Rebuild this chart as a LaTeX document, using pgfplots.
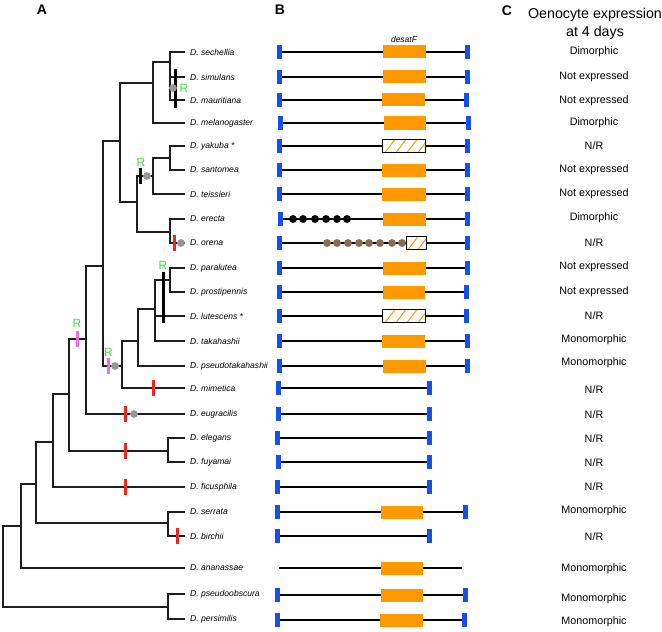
\documentclass[border=0pt]{standalone}
\usepackage{pgfplots}
\pgfplotsset{compat=1.18}
\usepackage{fontspec}
\setmainfont{Liberation Sans}
\definecolor{bbar}{RGB}{20,80,240}
\definecolor{obox}{RGB}{255,153,0}
\definecolor{brownd}{RGB}{140,106,79}
\definecolor{dotgray}{RGB}{150,150,150}
\definecolor{rgreen}{RGB}{60,225,60}
\definecolor{pinkb}{RGB}{235,110,235}
\definecolor{redb}{RGB}{232,40,30}
\definecolor{treec}{RGB}{30,30,30}
\newcommand{\spc}[3]{\node[anchor=west,inner sep=0pt,font=\fontsize{8.6}{10}\selectfont\itshape] at (axis cs:#1,#2) {#3};}
\newcommand{\ct}[2]{\node[inner sep=0pt,font=\fontsize{10.8}{12}\selectfont] at (axis cs:594,#1) {#2};}
\newcommand{\gl}[3]{\addplot[black,line width=2bp] coordinates {(#2,#1) (#3,#1)};}
\newcommand{\ob}[3]{\addplot[obox,line width=13bp] coordinates {(#2,#1) (#3,#1)};}
\newcommand{\rr}[2]{\node[inner sep=0pt,text=rgreen,font=\fontsize{12}{13}\selectfont] at (axis cs:#1,#2) {R};}
\begin{document}
\begin{tikzpicture}
\begin{axis}[scale only axis, width=662bp, height=632bp, xmin=0, xmax=662, ymin=0, ymax=632, y dir=reverse, hide axis, clip=false]
% ---------------- tree ----------------
\pgfplotsset{every axis plot/.append style={line join=miter}}
\addplot[treec,line width=1.3bp] coordinates {(185,52)(170,52)(170,100)(185,100)};
\addplot[treec,line width=1.3bp] coordinates {(170,77)(185,77)};
\addplot[treec,line width=1.3bp] coordinates {(170,62)(153,62)(153,123)(185,123)};
\addplot[treec,line width=1.3bp] coordinates {(185,146)(170,146)(170,170)(185,170)};
\addplot[treec,line width=1.3bp] coordinates {(170,158)(153,158)(153,194)(185,194)};
\addplot[treec,line width=1.3bp] coordinates {(185,219)(170,219)(170,243)(185,243)};
\addplot[treec,line width=1.3bp] coordinates {(153,176)(137,176)(137,232)(170,232)};
\addplot[treec,line width=1.3bp] coordinates {(153,83)(120,83)(120,202)(137,202)};
\addplot[treec,line width=1.3bp] coordinates {(185,268)(170,268)(170,292)(185,292)};
\addplot[treec,line width=1.3bp] coordinates {(170,280)(155,280)(155,341)(185,341)};
\addplot[treec,line width=1.3bp] coordinates {(155,316)(185,316)};
\addplot[treec,line width=1.3bp] coordinates {(155,309)(138,309)(138,366)(185,366)};
\addplot[treec,line width=1.3bp] coordinates {(138,341)(122,341)(122,388)(185,388)};
\addplot[treec,line width=1.3bp] coordinates {(120,141)(103,141)(103,366)(122,366)};
\addplot[treec,line width=1.3bp] coordinates {(103,266)(86,266)(86,414)(185,414)};
\addplot[treec,line width=1.3bp] coordinates {(185,438)(168,438)(168,462)(185,462)};
\addplot[treec,line width=1.3bp] coordinates {(86,339)(69,339)(69,451)(168,451)};
\addplot[treec,line width=1.3bp] coordinates {(69,394)(53,394)(53,487)(185,487)};
\addplot[treec,line width=1.3bp] coordinates {(185,512)(168,512)(168,536)(185,536)};
\addplot[treec,line width=1.3bp] coordinates {(53,442)(36,442)(36,523)(168,523)};
\addplot[treec,line width=1.3bp] coordinates {(36,484)(21,484)(21,568)(185,568)};
\addplot[treec,line width=1.3bp] coordinates {(185,594)(168,594)(168,619)(185,619)};
\addplot[treec,line width=1.3bp] coordinates {(21,526)(3,526)(3,607)(168,607)};
% black bars
\addplot[black,line width=3bp] coordinates {(175,69)(175,108)};
\addplot[black,line width=3bp] coordinates {(140,168)(140,184)};
\addplot[black,line width=3bp] coordinates {(163,272)(163,323)};
% pink bars
\addplot[pinkb,line width=3bp] coordinates {(77,331)(77,347)};
\addplot[pinkb,line width=3bp] coordinates {(108,358)(108,374)};
% red bars
\addplot[only marks, mark=|, mark size=8bp, color=redb, mark options={line width=3bp}] coordinates {(174,243)(153,388)(125,414)(125,451)(125,487)(177,536)};
% gray dots
\addplot[only marks, mark=*, mark size=3.6bp, color=dotgray] coordinates {(173,88)(147,176)(181,243)(115,366)(134,414)};
% R labels
\rr{184}{88}
\rr{141}{162}
\rr{163}{265}
\rr{77}{323}
\rr{108.5}{352}
% species labels
\spc{190}{52}{D. sechellia}
\spc{190}{77}{D. simulans}
\spc{190}{100}{D. mauritiana}
\spc{190}{123}{D. melanogaster}
\spc{190}{146}{D. yakuba *}
\spc{190}{170}{D. santomea}
\spc{190}{194}{D. teissieri}
\spc{190}{219}{D. erecta}
\spc{190}{243}{D. orena}
\spc{190}{268}{D. paralutea}
\spc{190}{292}{D. prostipennis}
\spc{190}{316}{D. lutescens *}
\spc{190}{341}{D. takahashii}
\spc{190}{366}{D. pseudotakahashii}
\spc{190}{388}{D. mimetica}
\spc{190}{414}{D. eugracilis}
\spc{190}{438}{D. elegans}
\spc{190}{462}{D. fuyamai}
\spc{190}{487}{D. ficusphila}
\spc{190}{512}{D. serrata}
\spc{190}{536}{D. birchii}
\spc{190}{568}{D. ananassae}
\spc{190}{594}{D. pseudoobscura}
\spc{190}{619}{D. persimilis}
% ---------------- gene diagrams ----------------
\gl{52}{279}{467}
\gl{77}{279}{467}
\gl{100}{279}{466}
\gl{123}{280}{468}
\gl{146}{279}{467}
\gl{170}{279}{467}
\gl{194}{279}{467}
\gl{219}{280}{467}
\gl{243}{279}{467}
\gl{268}{279}{467}
\gl{292}{279}{466}
\gl{316}{279}{466}
\gl{341}{279}{467}
\gl{366}{279}{467}
\gl{388}{278}{429}
\gl{414}{278}{429}
\gl{438}{277}{429}
\gl{462}{278}{429}
\gl{487}{277}{429}
\gl{512}{277}{465}
\gl{536}{277}{429}
\gl{568}{279}{462}
\gl{595}{277}{465}
\gl{620}{277}{464}
% orange boxes
\ob{52}{383}{426}
\ob{77}{383}{426}
\ob{100}{382}{425}
\ob{123}{384}{426}
\ob{170}{382}{426}
\ob{194}{382}{426}
\ob{219}{383}{426}
\ob{268}{383}{426}
\ob{292}{383}{425}
\ob{341}{382}{425}
\ob{366}{383}{426}
\ob{512}{381}{423}
\ob{568}{381}{423}
\ob{595}{381}{423}
\ob{620}{380}{423}
% hatched boxes
\addplot[white,line width=13bp] coordinates {(382,146)(425,146)};
\addplot[white,line width=13bp] coordinates {(382,316)(425,316)};
\addplot[white,line width=13bp] coordinates {(406,243)(426,243)};
\addplot[obox,line width=1bp] coordinates {(385,152.5)(395,139.5)};
\addplot[obox,line width=1bp] coordinates {(396,152.5)(406,139.5)};
\addplot[obox,line width=1bp] coordinates {(407,152.5)(417,139.5)};
\addplot[obox,line width=1bp] coordinates {(418,152.5)(425,143.4)};
\addplot[obox,line width=1bp] coordinates {(385,322.5)(395,309.5)};
\addplot[obox,line width=1bp] coordinates {(396,322.5)(406,309.5)};
\addplot[obox,line width=1bp] coordinates {(407,322.5)(417,309.5)};
\addplot[obox,line width=1bp] coordinates {(418,322.5)(425,313.4)};
\addplot[obox,line width=1bp] coordinates {(408,249.5)(418,236.5)};
\addplot[obox,line width=1bp] coordinates {(418,249.5)(426,239.1)};
\addplot[black,line width=0.8bp] coordinates {(382,139.5)(425,139.5)(425,152.5)(382,152.5)(382,139.5)};
\addplot[black,line width=0.8bp] coordinates {(382,309.5)(425,309.5)(425,322.5)(382,322.5)(382,309.5)};
\addplot[black,line width=0.8bp] coordinates {(406,236.5)(426,236.5)(426,249.5)(406,249.5)(406,236.5)};
% dots
\addplot[only marks, mark=*, mark size=3.7bp, color=black] coordinates {(293,219)(303,219)(315,219)(326,219)(337,219)(347,219)};
\addplot[only marks, mark=*, mark size=3.7bp, color=brownd] coordinates {(327,243)(337,243)(348,243)(359,243)(369,243)(380,243)(392,243)(402,243)};
% blue end bars
\addplot[only marks, mark=|, mark size=7bp, color=bbar, mark options={line width=5bp}] coordinates {
(279,52)(467,52)(279,77)(467,77)(279,100)(466,100)(280,123)(468,123)
(279,146)(467,146)(279,170)(467,170)(279,194)(467,194)(280,219)(467,219)
(279,243)(467,243)(279,268)(467,268)(279,292)(466,292)(279,316)(466,316)
(279,341)(467,341)(279,366)(467,366)(278,388)(429,388)(278,414)(429,414)
(277,438)(429,438)(278,462)(429,462)(277,487)(429,487)(277,512)(465,512)
(277,536)(429,536)(277,595)(465,595)(277,620)(464,620)};
\node[font=\fontsize{8.5}{10}\selectfont\itshape] at (axis cs:404,39) {desatF};
% ---------------- column C ----------------
\node[font=\fontsize{14.3}{16}\selectfont] at (axis cs:595,15) {Oenocyte expression};
\node[font=\fontsize{14.3}{16}\selectfont] at (axis cs:595,33) {at 4 days};
\ct{52}{Dimorphic}
\ct{77}{Not expressed}
\ct{101}{Not expressed}
\ct{123}{Dimorphic}
\ct{146}{N/R}
\ct{170}{Not expressed}
\ct{194}{Not expressed}
\ct{218}{Dimorphic}
\ct{243}{N/R}
\ct{267}{Not expressed}
\ct{292}{Not expressed}
\ct{316}{N/R}
\ct{340}{Monomorphic}
\ct{363}{Monomorphic}
\ct{390}{N/R}
\ct{415}{N/R}
\ct{439}{N/R}
\ct{463}{N/R}
\ct{487}{N/R}
\ct{511}{Monomorphic}
\ct{537}{N/R}
\ct{569}{Monomorphic}
\ct{599}{Monomorphic}
\ct{622}{Monomorphic}
% panel letters
\node[font=\fontsize{14}{16}\selectfont\bfseries] at (axis cs:42,10) {A};
\node[font=\fontsize{14}{16}\selectfont\bfseries] at (axis cs:280,10) {B};
\node[font=\fontsize{14}{16}\selectfont\bfseries] at (axis cs:507,11) {C};
\end{axis}
\pgfresetboundingbox
\path[use as bounding box] (current axis.south west) rectangle (current axis.north east);
\end{tikzpicture}
\end{document}
